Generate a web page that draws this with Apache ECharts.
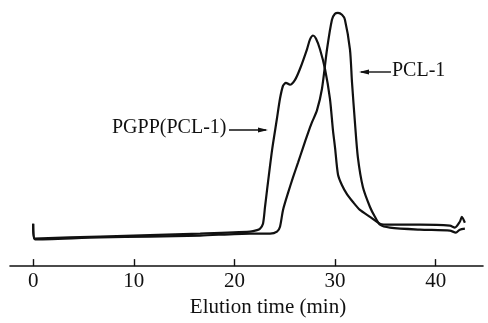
<!DOCTYPE html>
<html>
<head>
<meta charset="utf-8">
<script src="https://cdn.jsdelivr.net/npm/echarts@6/dist/echarts.min.js"></script>
<style>html,body{margin:0;padding:0;background:#fff;}#c{width:488px;height:323px;}</style>
</head>
<body>
<div id="c"></div>
<script>
// Elution time (min) vs detector response (arbitrary units)
const xTicks = [0, 10, 20, 30, 40];
const pgppSeries = [[0,43],[0.1,28],[6.65,30],[11.6,31.5],[16.6,33],[21.55,35],[22.25,36.5],[22.54,38],[22.84,43],[23.04,60],[23.24,77],[23.73,117],[24.23,150],[24.53,170],[24.83,183],[25.12,186],[25.52,184],[26.02,189],[26.51,200],[27.21,220],[27.51,230],[27.81,234],[28.1,231],[28.5,220],[29.0,200],[29.49,170],[29.79,138],[30.0,120],[30.29,93],[30.69,82],[31.18,73],[31.78,65],[32.47,57],[33.47,50],[34.46,43],[35.45,42],[38.43,42],[41.41,41],[41.9,39],[42.4,45],[42.6,50],[42.9,44]];
const pclSeries = [[0,43],[0.2,27],[6.65,29],[11.6,30],[16.6,31],[21.55,33],[23.54,33],[24.23,35],[24.53,40],[24.83,57],[25.32,74],[25.82,90],[26.32,105],[26.81,120],[27.31,135],[27.71,146],[28.2,158],[28.7,180],[29.2,220],[29.69,250],[29.99,256],[30.29,257],[30.69,255],[30.98,250],[31.48,220],[31.68,187],[31.98,145],[32.27,110],[32.77,80],[33.47,60],[33.96,50],[34.46,42],[35.45,39],[38.43,37],[41.41,36],[42.0,34],[42.4,37],[42.9,38]];
const seriesNames = ['PGPP(PCL-1)', 'PCL-1'];
const axisTitle = 'Elution time (min)';

const font = '"Liberation Serif", "DejaVu Serif", serif';
const chart = echarts.init(document.getElementById('c'), null, {renderer: 'canvas'});
const lineStyle = {color: '#111', width: 2.2};
chart.setOption({
  animation: false,
  backgroundColor: '#fff',
  grid: {left: 10, right: 5, top: 0, bottom: 53},
  xAxis: {
    type: 'value', min: -2.3, max: 44.7,
    name: axisTitle, nameLocation: 'middle', nameGap: 27,
    nameTextStyle: {fontFamily: font, fontSize: 21, color: '#111', padding: [0,0,0,43]},
    axisLine: {lineStyle: {color: '#111', width: 1.6}},
    axisTick: {show: true, inside: true, length: 7, customValues: xTicks, lineStyle: {color: '#111', width: 1.4}},
    axisLabel: {customValues: xTicks, fontFamily: font, fontSize: 21, color: '#111', margin: 5},
    splitLine: {show: false}
  },
  yAxis: {type: 'value', min: 0, max: 270, show: false},
  series: [
    {name: seriesNames[0], type: 'line', data: pgppSeries, showSymbol: false, smooth: 0.25, lineStyle: lineStyle},
    {name: seriesNames[1], type: 'line', data: pclSeries, showSymbol: false, smooth: 0.25, lineStyle: lineStyle}
  ],
  graphic: [
    {type: 'text', left: 112, top: 118, style: {text: seriesNames[0], font: '20px ' + font, fill: '#111'}},
    {type: 'line', shape: {x1: 229, y1: 130, x2: 266, y2: 130}, style: {stroke: '#111', lineWidth: 1.4}},
    {type: 'polygon', shape: {points: [[268,130],[258,127.5],[258,132.5]]}, style: {fill: '#111'}},
    {type: 'text', left: 392, top: 61, style: {text: seriesNames[1], font: '20px ' + font, fill: '#111'}},
    {type: 'line', shape: {x1: 361, y1: 72, x2: 391, y2: 72}, style: {stroke: '#111', lineWidth: 1.4}},
    {type: 'polygon', shape: {points: [[359,72],[369,69.5],[369,74.5]]}, style: {fill: '#111'}}
  ]
});
</script>
</body>
</html>
